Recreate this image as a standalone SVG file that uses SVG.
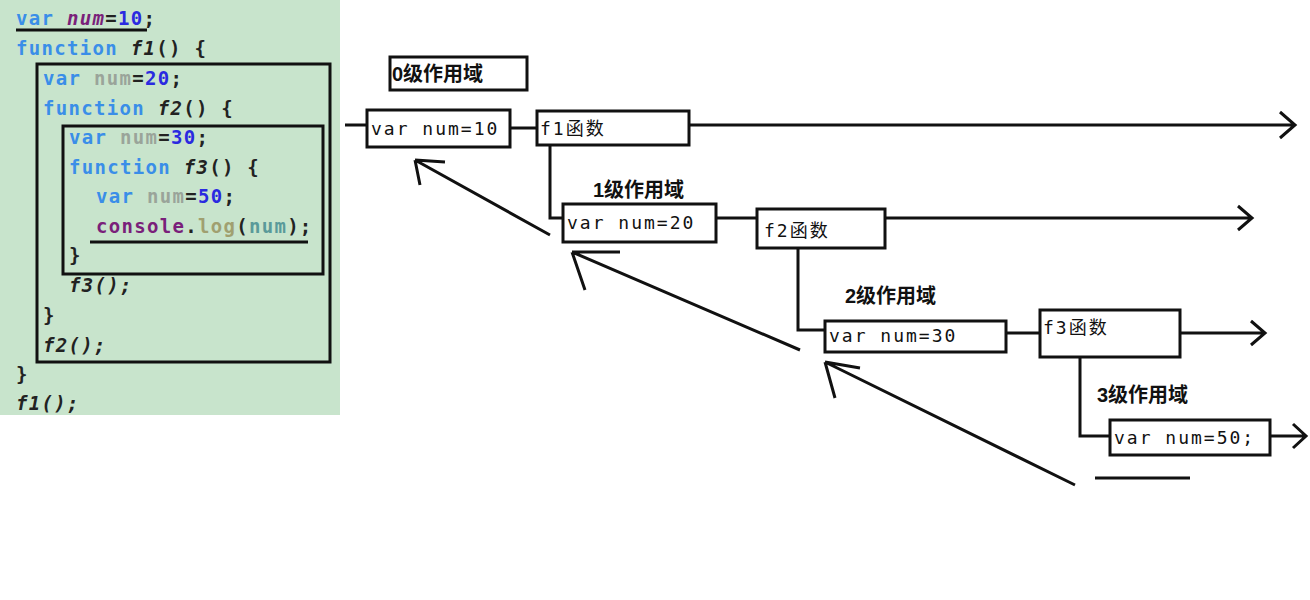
<svg xmlns="http://www.w3.org/2000/svg" width="1310" height="600" viewBox="0 0 1310 600">
<style>
.code{font-family:"DejaVu Sans Mono",monospace;font-size:19px;font-weight:bold;letter-spacing:1.3px}
.kw{fill:#3a8ee8}.num{fill:#2a2ae0}.dim{fill:#9aa49a}.blk{fill:#222}.pur{fill:#7a1f7a}
.box{fill:#fff;stroke:#111;stroke-width:3}
.ln{stroke:#111;stroke-width:3;fill:none}
.t{font-family:"DejaVu Sans Mono","Noto Sans CJK SC",monospace;font-size:18px;letter-spacing:2px;fill:#111}
.h{font-family:"Liberation Sans","Noto Sans CJK SC",sans-serif;font-size:20px;font-weight:bold;fill:#111}
</style>
<rect width="1310" height="600" fill="#fff"/>
<g id="code">
<rect x="0" y="0" width="340" height="415" fill="#c8e4cc"/>
<text class="code" x="16" y="25"><tspan class="kw">var</tspan> <tspan class="pur" font-style="italic">num</tspan><tspan class="blk">=</tspan><tspan class="num">10</tspan><tspan class="blk">;</tspan></text>
<text class="code" x="16" y="55"><tspan class="kw">function</tspan> <tspan class="blk" font-style="italic">f1</tspan><tspan class="blk">() </tspan><tspan class="blk">{</tspan></text>
<text class="code" x="43" y="85"><tspan class="kw">var</tspan> <tspan class="dim">num</tspan><tspan class="blk">=</tspan><tspan class="num">20</tspan><tspan class="blk">;</tspan></text>
<text class="code" x="43" y="115"><tspan class="kw">function</tspan> <tspan class="blk" font-style="italic">f2</tspan><tspan class="blk">() {</tspan></text>
<text class="code" x="69" y="144"><tspan class="kw">var</tspan> <tspan class="dim">num</tspan><tspan class="blk">=</tspan><tspan class="num">30</tspan><tspan class="blk">;</tspan></text>
<text class="code" x="69" y="174"><tspan class="kw">function</tspan> <tspan class="blk" font-style="italic">f3</tspan><tspan class="blk">() {</tspan></text>
<text class="code" x="96" y="203"><tspan class="kw">var</tspan> <tspan class="dim">num</tspan><tspan class="blk">=</tspan><tspan class="num">50</tspan><tspan class="blk">;</tspan></text>
<text class="code" x="96" y="233"><tspan class="pur">console</tspan><tspan class="blk">.</tspan><tspan fill="#a0a070">log</tspan><tspan class="blk">(</tspan><tspan fill="#5a9a9a">num</tspan><tspan class="blk">);</tspan></text>
<text class="code blk" x="69" y="262">}</text>
<text class="code blk" x="69" y="292" font-style="italic">f3();</text>
<text class="code blk" x="43" y="322">}</text>
<text class="code blk" x="43" y="352" font-style="italic">f2();</text>
<text class="code blk" x="16" y="381">}</text>
<text class="code blk" x="16" y="410" font-style="italic">f1();</text>
<rect x="37" y="64" width="293" height="298" class="ln"/>
<rect x="63" y="126" width="260" height="148" class="ln"/>
<line x1="16" y1="30" x2="147" y2="30" class="ln"/>
<line x1="90" y1="242" x2="308" y2="242" class="ln"/>
</g>
<g id="connectors" class="ln">
<path d="M345 125H367M510 128H537M689 125H1295M1280 112L1295 125L1280 138"/>
<path d="M550 145V218H563M716 218H757M885 218H1252M1238 206L1252 218L1238 230"/>
<path d="M798 248V330H825M1006 333H1040M1180 333H1265M1251 321L1265 333L1251 345"/>
<path d="M1080 357V436H1110M1270 436H1306M1293 424L1306 436L1293 448"/>
<path d="M550 235L415 160M415 160L445 162M415 160L420 185"/>
<path d="M800 350L572 252M572 252L620 252M572 252L585 290"/>
<path d="M1075 485L825 362M825 362L860 368M825 362L835 398"/>
<path d="M1095 478H1190"/>
</g>
<g id="l0"><rect x="390" y="57" width="137" height="33" class="box"/><text class="h" x="392" y="81">0级作用域</text></g>
<g id="n10"><rect x="367" y="110" width="143" height="37" class="box"/><text class="t" x="371" y="135">var num=10</text></g>
<g id="f1"><rect x="537" y="111" width="152" height="34" class="box"/><text class="t" x="540" y="135">f1函数</text></g>
<g id="l1"><text class="h" x="593" y="197">1级作用域</text></g>
<g id="n20"><rect x="563" y="204" width="153" height="38" class="box"/><text class="t" x="567" y="229">var num=20</text></g>
<g id="f2"><rect x="757" y="209" width="128" height="39" class="box"/><text class="t" x="764" y="237">f2函数</text></g>
<g id="l2"><text class="h" x="845" y="303">2级作用域</text></g>
<g id="n30"><rect x="825" y="321" width="181" height="31" class="box"/><text class="t" x="829" y="342">var num=30</text></g>
<g id="f3"><rect x="1040" y="310" width="140" height="47" class="box"/><text class="t" x="1043" y="334">f3函数</text></g>
<g id="l3"><text class="h" x="1097" y="402">3级作用域</text></g>
<g id="n50"><rect x="1110" y="420" width="160" height="35" class="box"/><text class="t" x="1114" y="444" letter-spacing="1px">var num=50;</text></g>
</svg>
